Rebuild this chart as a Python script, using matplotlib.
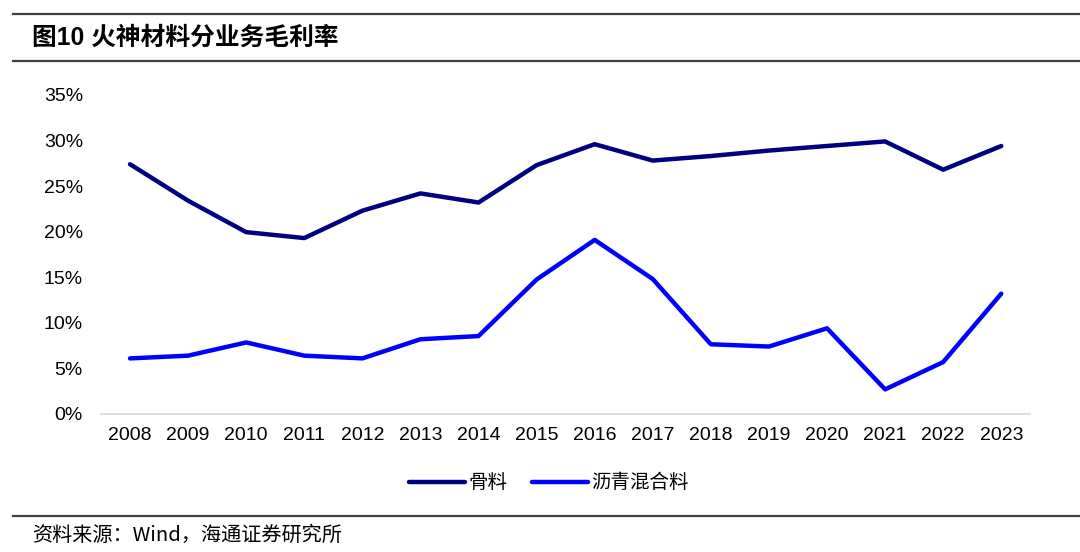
import matplotlib
matplotlib.use("Agg")
import matplotlib.pyplot as plt
from matplotlib.ticker import FuncFormatter

plt.rcParams["font.family"] = ["Liberation Sans", "Noto Sans CJK SC", "DejaVu Sans"]

years = [str(y) for y in range(2008, 2024)]
aggregate = [27.4, 23.4, 19.95, 19.3, 22.3, 24.2, 23.2, 27.3,
             29.6, 27.8, 28.3, 28.9, 29.4, 29.9, 26.8, 29.4]
asphalt = [6.1, 6.4, 7.85, 6.4, 6.1, 8.2, 8.55, 14.75,
           19.1, 14.8, 7.65, 7.4, 9.4, 2.7, 5.7, 13.2]
y_ticks = [0, 5, 10, 15, 20, 25, 30, 35]

fig = plt.figure(figsize=(10.8, 5.52), dpi=100)
ax = fig.add_axes([0.0935, 0.25, 0.8605, 0.578])

x = list(range(len(years)))
ax.plot(x, aggregate, color="#000080", linewidth=3.2, solid_capstyle="round",
        solid_joinstyle="round", label="骨料")
ax.plot(x, asphalt, color="#0000FF", linewidth=3.2, solid_capstyle="round",
        solid_joinstyle="round", label="沥青混合料")

ax.set_xlim(-0.5, len(years) - 0.5)
ax.set_ylim(0, 35)
ax.set_yticks(y_ticks)
ax.yaxis.set_major_formatter(FuncFormatter(lambda v, _: f"{v:.0f}%"))
ax.set_xticks(x)
ax.set_xticklabels(years)

for s in ("top", "right", "left"):
    ax.spines[s].set_visible(False)
ax.spines["bottom"].set_color("#d9d9d9")
ax.spines["bottom"].set_linewidth(1.2)
ax.tick_params(axis="both", length=0, labelsize=14, colors="#000000")
ax.tick_params(axis="x", pad=9)
ax.tick_params(axis="y", pad=13)

leg = fig.legend(loc="center", bbox_to_anchor=(0.508, 0.125), ncol=2, frameon=False,
                 handlelength=2.9, handletextpad=0.15, columnspacing=1.25,
                 prop={"family": ["Noto Sans CJK SC"], "size": 14})

# header/footer rules and texts
line_kw = dict(color="#404040", linewidth=1.6, transform=fig.transFigure)
fig.add_artist(plt.Line2D([0.012, 1.0], [1 - 14 / 552, 1 - 14 / 552], **line_kw))
fig.add_artist(plt.Line2D([0.012, 1.0], [1 - 61 / 552, 1 - 61 / 552], **line_kw))
fig.add_artist(plt.Line2D([0.012, 1.0], [1 - 516 / 552, 1 - 516 / 552], **line_kw))

fig.text(0.03, 1 - 38 / 552, "图10 火神材料分业务毛利率", fontsize=17.8, fontweight="bold",
         va="center", ha="left", family=["Liberation Sans", "Noto Sans CJK SC"])
fig.text(0.03, 1 - 535 / 552, "资料来源：Wind，海通证券研究所", fontsize=14.5,
         va="center", ha="left", family=["Noto Sans CJK SC", "Liberation Sans"])

fig.savefig("out.png", dpi=100, facecolor="white")
